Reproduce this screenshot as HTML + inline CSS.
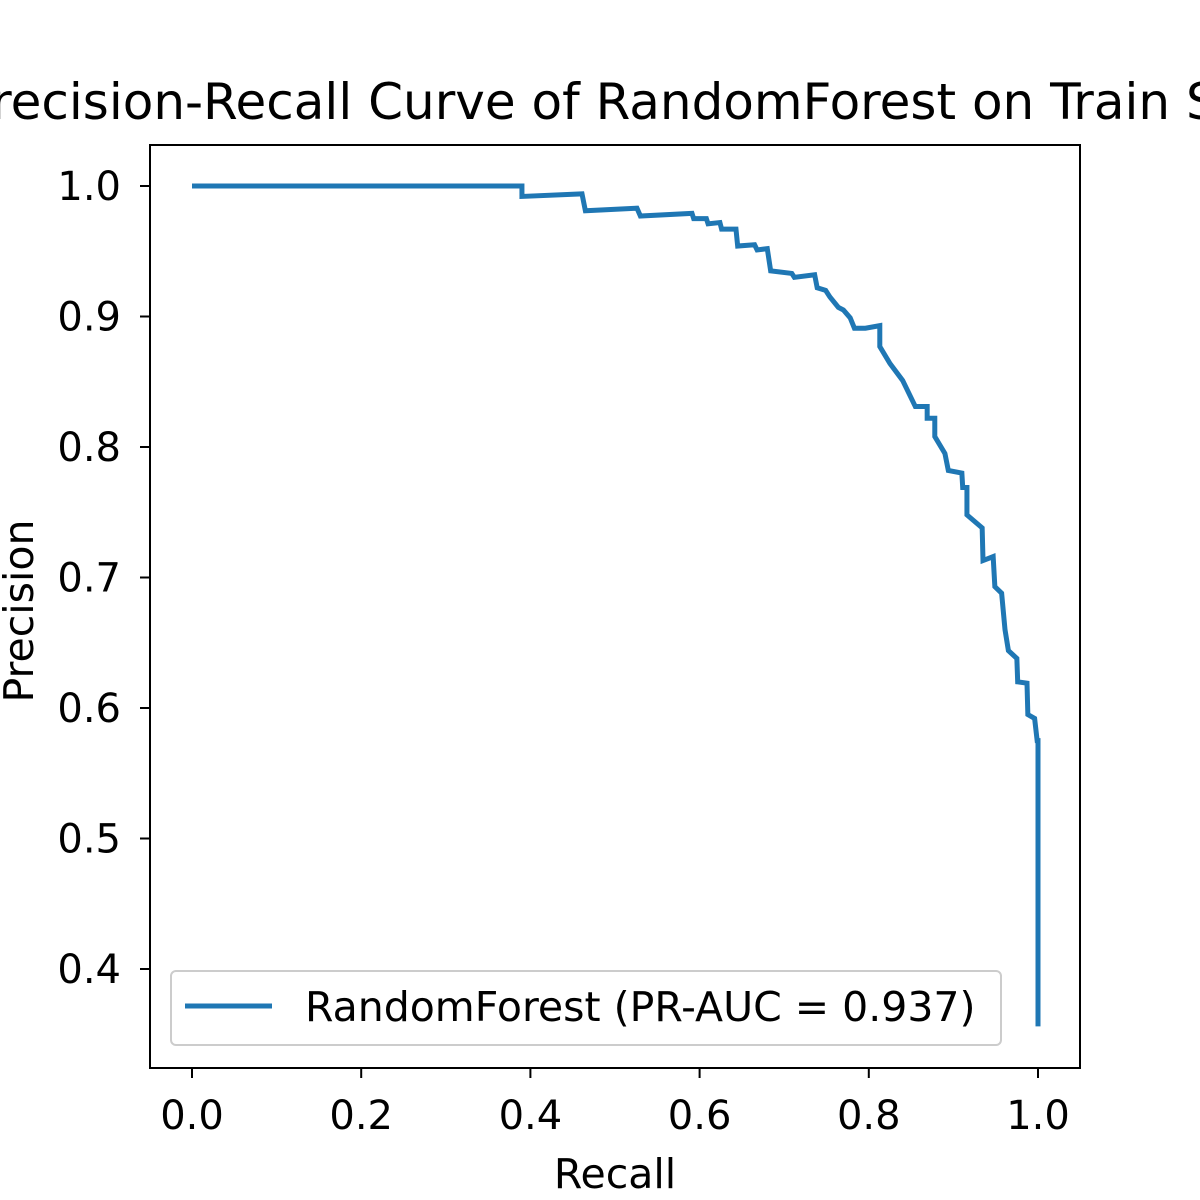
<!DOCTYPE html>
<html><head><meta charset="utf-8"><style>
html,body{margin:0;padding:0;background:#fff;width:1200px;height:1200px;overflow:hidden}
svg{display:block;font-family:"DejaVu Sans","Liberation Sans",sans-serif}
</style></head><body>
<svg id="chart" width="1200" height="1200">
<text x="615" y="119" font-size="50" text-anchor="middle" fill="#000">Precision-Recall Curve of RandomForest on Train Set</text>
<g id="ticks"></g>
<polyline id="curve" fill="none" stroke="#1f77b4" stroke-width="5" stroke-linejoin="miter"/>
<rect x="150" y="145" width="930" height="923" fill="none" stroke="#000" stroke-width="2"/>
<text x="615" y="1188" font-size="41" text-anchor="middle">Recall</text>
<text transform="translate(33,611) rotate(-90)" font-size="41" text-anchor="middle">Precision</text>
<g>
<rect x="171" y="971" width="830" height="74" rx="5" fill="#fff" fill-opacity="0.8" stroke="#ccc" stroke-width="2"/>
<line x1="185" y1="1006" x2="272" y2="1006" stroke="#1f77b4" stroke-width="5"/>
<text x="305" y="1021" font-size="41">RandomForest (PR-AUC = 0.937)</text>
</g>
</svg>
<script>
const recall=[0,.390,.390,.461,.465,.526,.530,.591,.593,.608,.610,.624,.626,.643,.645,.665,.668,.680,.684,.709,.712,.736,.739,.749,.754,.764,.770,.778,.783,.796,.813,.813,.825,.840,.855,.869,.869,.878,.878,.890,.894,.910,.911,.916,.916,.934,.935,.947,.949,.957,.961,.965,.975,.976,.987,.988,.996,.999,1,1];
const precision=[1,1,.992,.994,.981,.983,.977,.979,.975,.975,.971,.972,.967,.967,.954,.955,.951,.952,.935,.933,.930,.932,.922,.920,.915,.907,.905,.899,.891,.891,.893,.877,.864,.851,.831,.831,.822,.822,.808,.795,.782,.780,.769,.769,.748,.738,.713,.716,.693,.688,.660,.644,.638,.620,.619,.595,.592,.575,.575,.356];
const xTicks=[0,0.2,0.4,0.6,0.8,1.0];
const yTicks=[0.4,0.5,0.6,0.7,0.8,0.9,1.0];
const xs=v=>192+v*846;
const ys=v=>186+(1-v)*1305;
const NS="http://www.w3.org/2000/svg";
const curve=document.getElementById('curve');
curve.setAttribute('points',recall.map((r,i)=>xs(r)+','+ys(precision[i])).join(' '));
const g=document.getElementById('ticks');
xTicks.forEach(t=>{
 const l=document.createElementNS(NS,'line');
 l.setAttribute('x1',xs(t));l.setAttribute('x2',xs(t));l.setAttribute('y1',1068);l.setAttribute('y2',1078);
 l.setAttribute('stroke','#000');l.setAttribute('stroke-width','2');
 
 
 g.appendChild(l);
 const tx=document.createElementNS(NS,'text');
 tx.setAttribute('x',xs(t));tx.setAttribute('y',1129);tx.setAttribute('font-size','40');tx.setAttribute('text-anchor','middle');
 tx.textContent=t.toFixed(1);
 
 
 g.appendChild(tx);
});
yTicks.forEach(t=>{
 const l=document.createElementNS(NS,'line');
 l.setAttribute('x1',140);l.setAttribute('x2',150);l.setAttribute('y1',ys(t));l.setAttribute('y2',ys(t));
 l.setAttribute('stroke','#000');l.setAttribute('stroke-width','2');
 
 
 g.appendChild(l);
 const tx=document.createElementNS(NS,'text');
 tx.setAttribute('x',121);tx.setAttribute('y',ys(t)+14);tx.setAttribute('font-size','40');tx.setAttribute('text-anchor','end');
 tx.textContent=t.toFixed(1);
 
 
 g.appendChild(tx);
});
</script>
</body></html>
